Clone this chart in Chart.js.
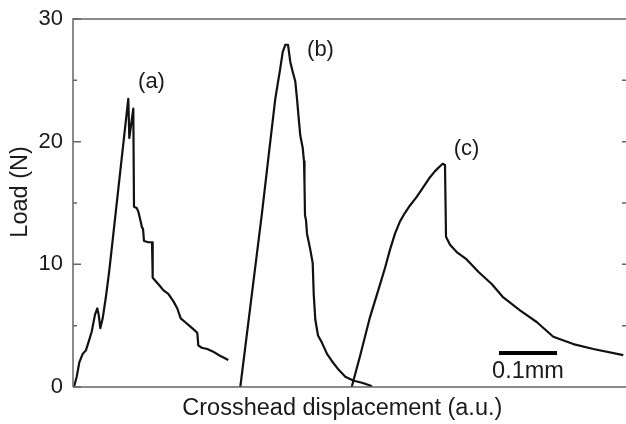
<!DOCTYPE html>
<html>
<head>
<meta charset="utf-8">
<script src="https://cdn.jsdelivr.net/npm/chart.js@4"></script>
<style>
html,body{margin:0;padding:0;background:#fff;overflow:hidden;}
canvas{display:block;}
</style>
</head>
<body>
<canvas id="c" width="626" height="424"></canvas>
<script>
// ---- data (x in arbitrary units, y = Load in N) ----
const curveAX = [0.1,0.37,0.63,0.97,1.3,1.53,1.87,2.2,2.43,2.57,2.73,2.97,3.3,3.63,3.97,5.53,5.63,6.03,6.1,6.37,6.53,6.77,6.9,7.0,7.1,7.53,7.9,7.97,8.3,8.63,9.03,9.53,10.03,10.43,10.77,11.2,11.77,12.2,12.43,12.53,12.87,13.43,13.97,14.7,15.53];
const curveAY = [0,0.84,2.0,2.7,3.0,3.6,4.5,5.9,6.4,5.9,4.8,5.6,7.4,9.5,12.0,23.5,20.3,22.7,14.7,14.6,14.3,13.5,13.0,12.9,11.9,11.8,11.8,8.9,8.6,8.3,7.9,7.6,7.0,6.4,5.6,5.3,4.9,4.6,4.4,3.4,3.2,3.1,2.9,2.55,2.2];

const curveBX = [16.73,18.9,19.57,20.23,20.73,20.97,21.23,21.5,21.73,21.97,22.23,22.4,22.57,22.73,22.97,23.1,23.15,23.2,23.3,23.4,23.73,23.97,24.07,24.23,24.5,24.9,25.4,25.9,26.57,27.23,28.07,28.9,29.57,29.9];
const curveBY = [0,14.2,18.9,23.5,26.0,27.3,27.9,27.9,26.5,25.7,24.9,23.5,21.9,20.5,19.5,18.4,16.5,14.0,13.6,12.5,11.2,10.1,7.6,5.5,4.2,3.6,2.7,2.1,1.4,0.84,0.51,0.35,0.16,0.05];

const curveCX = [27.87,28.7,29.7,30.53,31.2,31.7,32.2,32.7,33.2,33.7,34.37,35.03,35.7,36.2,36.7,36.97,37.2,37.3,37.7,38.37,39.37,40.53,41.87,43.03,44.7,46.37,48.03,50.03,52.03,55.03];
const curveCY = [0,2.5,5.7,7.9,9.7,11.2,12.5,13.5,14.2,14.8,15.5,16.3,17.1,17.6,18.0,18.2,18.1,12.25,11.6,11.0,10.4,9.4,8.4,7.3,6.25,5.3,4.1,3.5,3.1,2.6];

const yMajorTicks = [0,10,20,30];
const yMinorTicks = [5,15,25];
const yRightTicks = [5,10,15,20,25];
const curveLabels = ["(a)","(b)","(c)"];
const labelX = [7.85,24.75,39.35];
const labelY = [24.9,27.5,19.4];
const scaleBarX = [42.6,48.4];
const scaleBarY = 2.77;
const scaleBarText = "0.1mm";
const scaleBarTextY = 1.3;
const xTitle = "Crosshead displacement (a.u.)";
const yTitle = "Load (N)";
const xRange = [0,55.3];
const yRange = [0,30];

function pts(xs, ys){ return xs.map((x,i)=>({x:x,y:ys[i]})); }

const FAMILY = '"Liberation Sans", Arial, Helvetica, sans-serif';
const FONT = '22px ' + FAMILY;
const FONT_BIG = '23.5px ' + FAMILY;
const AXIS_COLOR = '#666';
const TEXT_COLOR = '#1a1a1a';

const decor = {
  id:'decor',
  afterDraw(chart){
    const ctx = chart.ctx, a = chart.chartArea;
    const xs = chart.scales.x, ys = chart.scales.y;
    ctx.save();
    // frame lines: left, top, bottom
    ctx.strokeStyle = AXIS_COLOR; ctx.lineWidth = 1.5;
    ctx.beginPath();
    ctx.moveTo(a.left, a.bottom); ctx.lineTo(a.left, a.top); ctx.lineTo(a.right, a.top);
    ctx.moveTo(a.left, a.bottom); ctx.lineTo(a.right, a.bottom);
    ctx.stroke();
    // ticks
    ctx.beginPath();
    yMajorTicks.forEach(v=>{ const p=ys.getPixelForValue(v); ctx.moveTo(a.left,p); ctx.lineTo(a.left+8,p); });
    yMinorTicks.forEach(v=>{ const p=ys.getPixelForValue(v); ctx.moveTo(a.left,p); ctx.lineTo(a.left+4,p); });
    yRightTicks.forEach(v=>{ const p=ys.getPixelForValue(v); ctx.moveTo(a.right-4,p); ctx.lineTo(a.right,p); });
    ctx.stroke();
    // tick labels
    ctx.fillStyle = TEXT_COLOR; ctx.font = FONT;
    ctx.textAlign = 'right'; ctx.textBaseline = 'middle';
    yMajorTicks.forEach(v=>{ ctx.fillText(String(v), a.left-10, ys.getPixelForValue(v)); });
    // curve labels
    ctx.textAlign = 'center';
    curveLabels.forEach((t,i)=>{ ctx.fillText(t, xs.getPixelForValue(labelX[i]), ys.getPixelForValue(labelY[i])); });
    // axis titles
    ctx.font = FONT_BIG;
    ctx.fillText(xTitle, a.left + (a.right-a.left)*0.487, a.bottom + 22);
    ctx.save();
    ctx.translate(21, a.top + (a.bottom-a.top)*0.47);
    ctx.rotate(-Math.PI/2);
    ctx.fillText(yTitle, 0, 0);
    ctx.restore();
    // scale bar
    ctx.strokeStyle = '#000'; ctx.lineWidth = 4;
    ctx.beginPath();
    ctx.moveTo(xs.getPixelForValue(scaleBarX[0]), ys.getPixelForValue(scaleBarY));
    ctx.lineTo(xs.getPixelForValue(scaleBarX[1]), ys.getPixelForValue(scaleBarY));
    ctx.stroke();
    ctx.fillText(scaleBarText, xs.getPixelForValue((scaleBarX[0]+scaleBarX[1])/2), ys.getPixelForValue(scaleBarTextY));
    ctx.restore();
  }
};

const ds = (xs,ys)=>({data:pts(xs,ys), showLine:true, borderColor:'#111', borderWidth:2.2, pointRadius:0, tension:0, fill:false, borderJoinStyle:'round'});

new Chart(document.getElementById('c'), {
  type:'scatter',
  data:{ datasets:[ ds(curveAX,curveAY), ds(curveBX,curveBY), ds(curveCX,curveCY) ] },
  options:{
    responsive:false, animation:false, devicePixelRatio:1,
    layout:{ padding:{ left:73, top:19, right:0, bottom:37 } },
    plugins:{ legend:{display:false}, tooltip:{enabled:false} },
    scales:{
      x:{ type:'linear', min:xRange[0], max:xRange[1], display:false },
      y:{ type:'linear', min:yRange[0], max:yRange[1], display:false }
    }
  },
  plugins:[decor]
});
</script>
</body>
</html>
